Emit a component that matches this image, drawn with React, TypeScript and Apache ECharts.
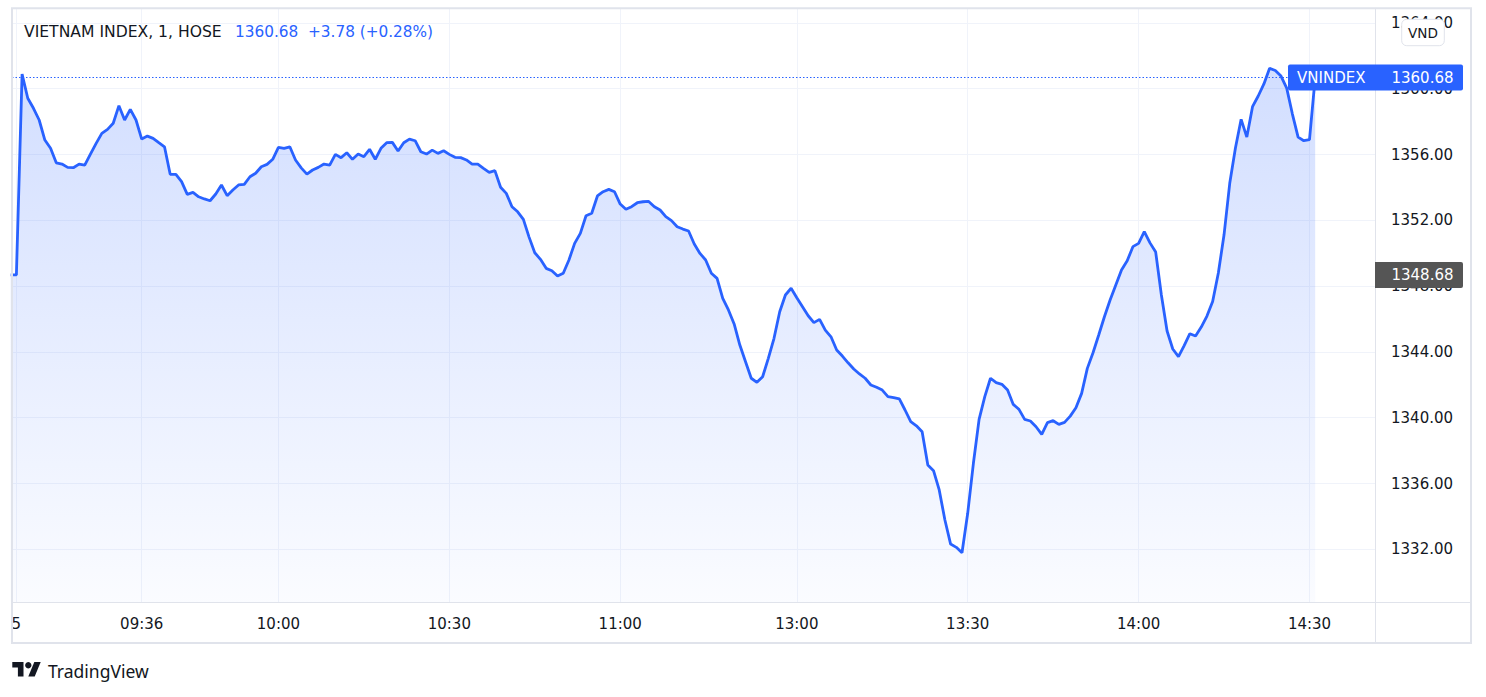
import React, { useEffect, useRef } from "react";
import * as echarts from "echarts";

// ---------- data ----------
const symbolName = "VIETNAM INDEX";
const resolution = "1";
const exchange = "HOSE";
const tickerShort = "VNINDEX";
const currency = "VND";
const prevClose = 1348.68;

function minuteRange(start: string, end: string): string[] {
  const toMin = (s: string) => parseInt(s.slice(0, 2), 10) * 60 + parseInt(s.slice(3), 10);
  const out: string[] = [];
  for (let m = toMin(start); m <= toMin(end); m++) {
    out.push(String(Math.floor(m / 60)).padStart(2, "0") + ":" + String(m % 60).padStart(2, "0"));
  }
  return out;
}

const prevDayBar = ["14:45"];
const preOpenBar = ["09:00"];
const morningTimes = minuteRange("09:15", "11:30");
const afternoonTimes = minuteRange("13:00", "14:30");
const closeBar = ["14:45"];
const barTimes = [...prevDayBar, ...preOpenBar, ...morningTimes, ...afternoonTimes, ...closeBar];

const closes = [
  1348.68, 1348.68, 1360.89, 1359.42, 1358.81, 1358.10, 1356.88, 1356.38, 1355.50, 1355.42,
  1355.22, 1355.20, 1355.42, 1355.36, 1356.03, 1356.68, 1357.29, 1357.53, 1357.90, 1358.97,
  1358.10, 1358.75, 1358.10, 1356.94, 1357.12, 1356.98, 1356.72, 1356.47, 1354.80, 1354.80,
  1354.35, 1353.58, 1353.70, 1353.43, 1353.30, 1353.19, 1353.60, 1354.15, 1353.50, 1353.84,
  1354.15, 1354.19, 1354.65, 1354.86, 1355.26, 1355.40, 1355.71, 1356.44, 1356.38, 1356.47,
  1355.67, 1355.19, 1354.81, 1355.06, 1355.22, 1355.42, 1355.36, 1356.01, 1355.81, 1356.11,
  1355.71, 1356.03, 1355.87, 1356.32, 1355.71, 1356.38, 1356.72, 1356.74, 1356.21, 1356.72,
  1356.94, 1356.84, 1356.17, 1356.03, 1356.27, 1356.07, 1356.23, 1356.01, 1355.83, 1355.81,
  1355.67, 1355.42, 1355.42, 1355.16, 1354.92, 1355.02, 1354.01, 1353.64, 1352.83, 1352.52,
  1352.06, 1350.98, 1350.03, 1349.63, 1349.08, 1348.94, 1348.61, 1348.78, 1349.59, 1350.60,
  1351.21, 1352.28, 1352.43, 1353.48, 1353.74, 1353.88, 1353.74, 1352.99, 1352.67, 1352.83,
  1353.07, 1353.13, 1353.15, 1352.83, 1352.63, 1352.22, 1351.98, 1351.61, 1351.47, 1351.35,
  1350.56, 1349.99, 1349.59, 1348.78, 1348.47, 1347.26, 1346.55, 1345.70, 1344.42, 1343.40,
  1342.40, 1342.15, 1342.49, 1343.61, 1344.83, 1346.44, 1347.46, 1347.87, 1347.29, 1346.75,
  1346.20, 1345.78, 1345.98, 1345.33, 1344.92, 1344.12, 1343.75, 1343.34, 1342.96, 1342.66,
  1342.40, 1341.99, 1341.85, 1341.68, 1341.28, 1341.22, 1341.14, 1340.47, 1339.76, 1339.51,
  1339.15, 1337.12, 1336.78, 1335.61, 1333.78, 1332.32, 1332.12, 1331.79, 1334.19, 1337.23,
  1339.90, 1341.28, 1342.40, 1342.13, 1342.03, 1341.68, 1340.81, 1340.51, 1339.90, 1339.80,
  1339.45, 1338.99, 1339.70, 1339.82, 1339.60, 1339.72, 1340.10, 1340.61, 1341.48, 1343.00,
  1343.95, 1345.03, 1346.14, 1347.16, 1348.07, 1348.98, 1349.54, 1350.40, 1350.60, 1351.31,
  1350.63, 1350.07, 1347.46, 1345.27, 1344.18, 1343.71, 1344.39, 1345.11, 1344.97, 1345.51,
  1346.18, 1347.06, 1348.80, 1351.12, 1354.25, 1356.40, 1358.14, 1357.06, 1358.91, 1359.56,
  1360.29, 1361.24, 1361.11, 1360.77, 1360.04, 1358.46, 1357.06, 1356.84, 1356.90, 1360.68,
];

const xTickTimes = ["09:00", "09:36", "10:00", "10:30", "11:00", "13:00", "13:30", "14:00", "14:30"];
const xTickLabels = ["5", "09:36", "10:00", "10:30", "11:00", "13:00", "13:30", "14:00", "14:30"];
const yTickValues = [1332, 1336, 1340, 1344, 1348, 1352, 1356, 1360, 1364];

export default function App() {
  const ref = useRef<HTMLDivElement>(null);

  useEffect(() => {
    if (!ref.current) return;
    const chart = echarts.init(ref.current, null, { renderer: "svg" });
    const font = "DejaVu Sans";
    const textColor = "#131722";
    const blue = "#2962FF";
    const border = "#e0e3eb";
    const gridColor = "#f0f3fa";

    const seriesData = closes.map((v, i) => [i - 1, v]);
    const tickIdx = xTickTimes.map((t) => barTimes.indexOf(t) - 1);
    const last = closes[closes.length - 1];
    const prev = closes[closes.length - 2];
    const change = last - prev;
    const pct = (change / prev) * 100;

    chart.setOption({
      animation: false,
      grid: { left: 12, right: 111, top: 8.3, bottom: 94.7 },
      xAxis: {
        type: "value",
        min: -0.77,
        max: 238.5,
        axisLine: { show: false },
        axisTick: { show: false, customValues: tickIdx },
        axisLabel: {
          customValues: tickIdx,
          formatter: (v: number) => {
            const j = tickIdx.indexOf(Math.round(v));
            return j >= 0 ? xTickLabels[j] : "";
          },
          color: textColor,
          fontFamily: font,
          fontSize: 15,
          margin: 14,
        },
        splitLine: { show: true, lineStyle: { color: gridColor, width: 1 } },
      },
      yAxis: {
        type: "value",
        position: "right",
        min: 1328.78,
        max: 1364.89,
        axisLine: { show: false },
        axisTick: { show: false, customValues: yTickValues },
        axisLabel: {
          customValues: yTickValues,
          formatter: (v: number) => v.toFixed(2),
          color: textColor,
          fontFamily: font,
          fontSize: 15,
          margin: 16,
        },
        splitLine: { show: true, lineStyle: { color: gridColor, width: 1 } },
      },
      series: [
        {
          type: "line",
          data: seriesData,
          showSymbol: false,
          symbol: "none",
          lineStyle: { color: blue, width: 2.8 },
          areaStyle: {
            color: new echarts.graphic.LinearGradient(0, 0, 0, 1, [
              { offset: 0, color: "rgba(41,98,255,0.30)" },
              { offset: 1, color: "rgba(41,98,255,0.03)" },
            ]),
          },
          markLine: {
            silent: true,
            symbol: ["none", "none"],
            label: { show: false },
            lineStyle: { color: blue, width: 1, type: [1.5, 2] },
            data: [{ yAxis: last }],
          },
        },
      ],
    });

    const yLast = chart.convertToPixel({ yAxisIndex: 0 }, last) as number;
    const yPrev = chart.convertToPixel({ yAxisIndex: 0 }, prevClose) as number;
    const s = 0.8;
    const lx = 12.3;
    const ly = 658.8;

    chart.setOption({
      graphic: [
        { type: "rect", z: 50, silent: true, shape: { x: 12, y: 8.3, width: 1459, height: 634.7 }, style: { fill: "none", stroke: border, lineWidth: 2 } },
        { type: "line", z: 50, silent: true, shape: { x1: 12, y1: 602.5, x2: 1471, y2: 602.5 }, style: { stroke: border, lineWidth: 1 } },
        { type: "line", z: 50, silent: true, shape: { x1: 1375.5, y1: 8, x2: 1375.5, y2: 643 }, style: { stroke: border, lineWidth: 1 } },
        {
          type: "text", z: 60, x: 24, y: 32,
          style: { text: `${symbolName}, ${resolution}, ${exchange}`, fill: textColor, fontFamily: font, fontSize: 15.6, align: "left", verticalAlign: "middle" },
        },
        {
          type: "text", z: 60, x: 235, y: 32,
          style: { text: last.toFixed(2), fill: blue, fontFamily: font, fontSize: 15.3, align: "left", verticalAlign: "middle" },
        },
        {
          type: "text", z: 60, x: 308, y: 32,
          style: { text: `${change >= 0 ? "+" : ""}${change.toFixed(2)} (${pct >= 0 ? "+" : ""}${pct.toFixed(2)}%)`, fill: blue, fontFamily: font, fontSize: 15.3, align: "left", verticalAlign: "middle" },
        },
        { type: "rect", z: 70, shape: { x: 1401.7, y: 19.3, width: 42.6, height: 26.4, r: 5 }, style: { fill: "#ffffff", stroke: border, lineWidth: 1 } },
        { type: "text", z: 71, x: 1423, y: 32.5, style: { text: currency, fill: textColor, fontFamily: font, fontSize: 13.6, align: "center", verticalAlign: "middle" } },
        { type: "rect", z: 70, shape: { x: 1288, y: yLast - 13, width: 175, height: 26, r: 2 }, style: { fill: blue } },
        { type: "text", z: 71, x: 1297, y: yLast, style: { text: tickerShort, fill: "#ffffff", fontFamily: font, fontSize: 15, align: "left", verticalAlign: "middle" } },
        { type: "text", z: 71, x: 1453.5, y: yLast, style: { text: last.toFixed(2), fill: "#ffffff", fontFamily: font, fontSize: 15, align: "right", verticalAlign: "middle" } },
        { type: "rect", z: 70, shape: { x: 1375, y: yPrev - 13, width: 88, height: 26, r: [0, 2, 2, 0] }, style: { fill: "#555555" } },
        { type: "text", z: 71, x: 1453.5, y: yPrev, style: { text: prevClose.toFixed(2), fill: "#ffffff", fontFamily: font, fontSize: 15, align: "right", verticalAlign: "middle" } },
        {
          type: "polygon", z: 60,
          shape: { points: [[lx + 0 * s, ly + 4 * s], [lx + 14 * s, ly + 4 * s], [lx + 14 * s, ly + 22 * s], [lx + 7 * s, ly + 22 * s], [lx + 7 * s, ly + 11 * s], [lx + 0 * s, ly + 11 * s]] },
          style: { fill: textColor },
        },
        { type: "circle", z: 60, shape: { cx: lx + 20 * s, cy: ly + 8 * s, r: 4 * s }, style: { fill: textColor } },
        {
          type: "polygon", z: 60,
          shape: { points: [[lx + 20 * s, ly + 22 * s], [lx + 27.5 * s, ly + 4 * s], [lx + 35.5 * s, ly + 4 * s], [lx + 28 * s, ly + 22 * s]] },
          style: { fill: textColor },
        },
        { type: "text", z: 60, x: 48, y: 671, style: { text: "TradingView", fill: textColor, fontFamily: "Noto Sans", fontSize: 17.5, align: "left", verticalAlign: "middle" } },
      ],
    });

    return () => chart.dispose();
  }, []);

  return (
    <div
      ref={ref}
      style={{ position: "fixed", left: 0, top: 0, width: 1486, height: 697, background: "#ffffff" }}
    />
  );
}
